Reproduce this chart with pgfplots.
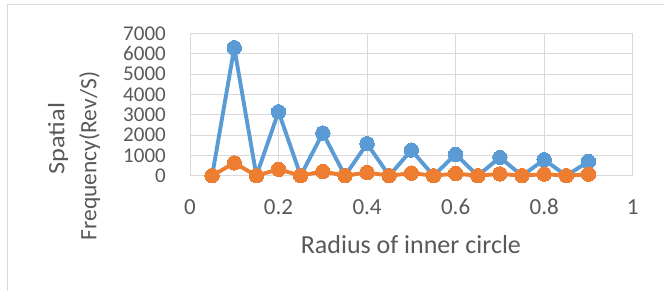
\documentclass[border=0pt]{standalone}
\usepackage{fontspec}
\setmainfont{Carlito}
\usepackage{pgfplots}
\pgfplotsset{compat=1.18}
\definecolor{gridc}{HTML}{D9D9D9}
\definecolor{txt}{HTML}{595959}
\definecolor{bl}{HTML}{5B9BD5}
\definecolor{og}{HTML}{ED7D31}
\begin{document}
\begin{tikzpicture}
\useasboundingbox (0,0) rectangle (664bp,291bp);
\draw[gridc, line width=1bp] (7.3bp,0) -- (7.3bp,286bp) -- (664bp,286bp);
\begin{axis}[
  at={(190bp,115.3bp)}, anchor=south west,
  scale only axis, width=442.7bp, height=142.2bp,
  xmin=0, xmax=1, ymin=0, ymax=7000,
  xtick={0,0.2,0.4,0.6,0.8,1},
  ytick={0,1000,2000,3000,4000,5000,6000,7000},
  grid=major,
  grid style={gridc, line width=1bp},
  axis line style={gridc, line width=1bp},
  major tick length=0pt,
  /pgf/number format/assume math mode=true,
  /pgf/number format/1000 sep={},
  ticklabel style={txt},
  xticklabel style={font=\fontsize{23bp}{27bp}\selectfont, anchor=base, inner sep=0pt, yshift=-39.3bp},
  yticklabel style={font=\fontsize{21bp}{25bp}\selectfont, anchor=east, inner sep=0pt, xshift=-24bp},
  xlabel={Radius of inner circle},
  xlabel style={font=\fontsize{26bp}{30bp}\selectfont, txt, at={(axis description cs:0.499,-0.546)}, anchor=base, inner sep=0pt},
  ylabel={\hspace*{35bp}\scalebox{1.12}[1]{Spatial}\\Frequency(Rev/S)},
  ylabel style={font=\fontsize{23.5bp}{32bp}\selectfont, txt, align=center, at={(axis description cs:-0.262,0.1385)}, anchor=center, inner sep=0pt},
  clip=false,
]
\addplot[bl, line width=3.9bp, line join=round, mark=*, mark size=7.2bp, mark options={fill=bl, draw=bl, line width=0pt}] coordinates {
(0.05,0) (0.1,6300) (0.15,0) (0.2,3150) (0.25,0) (0.3,2100) (0.35,0) (0.4,1575) (0.45,0) (0.5,1260) (0.55,0) (0.6,1050) (0.65,0) (0.7,900) (0.75,0) (0.8,787.5) (0.85,0) (0.9,700)
};
\addplot[og, line width=3.9bp, line join=round, mark=*, mark size=7.2bp, mark options={fill=og, draw=og, line width=0pt}] coordinates {
(0.05,0) (0.1,630) (0.15,0) (0.2,315) (0.25,0) (0.3,210) (0.35,0) (0.4,157.5) (0.45,0) (0.5,126) (0.55,0) (0.6,105) (0.65,0) (0.7,90) (0.75,0) (0.8,78.75) (0.85,0) (0.9,70)
};
\end{axis}
\end{tikzpicture}
\end{document}
